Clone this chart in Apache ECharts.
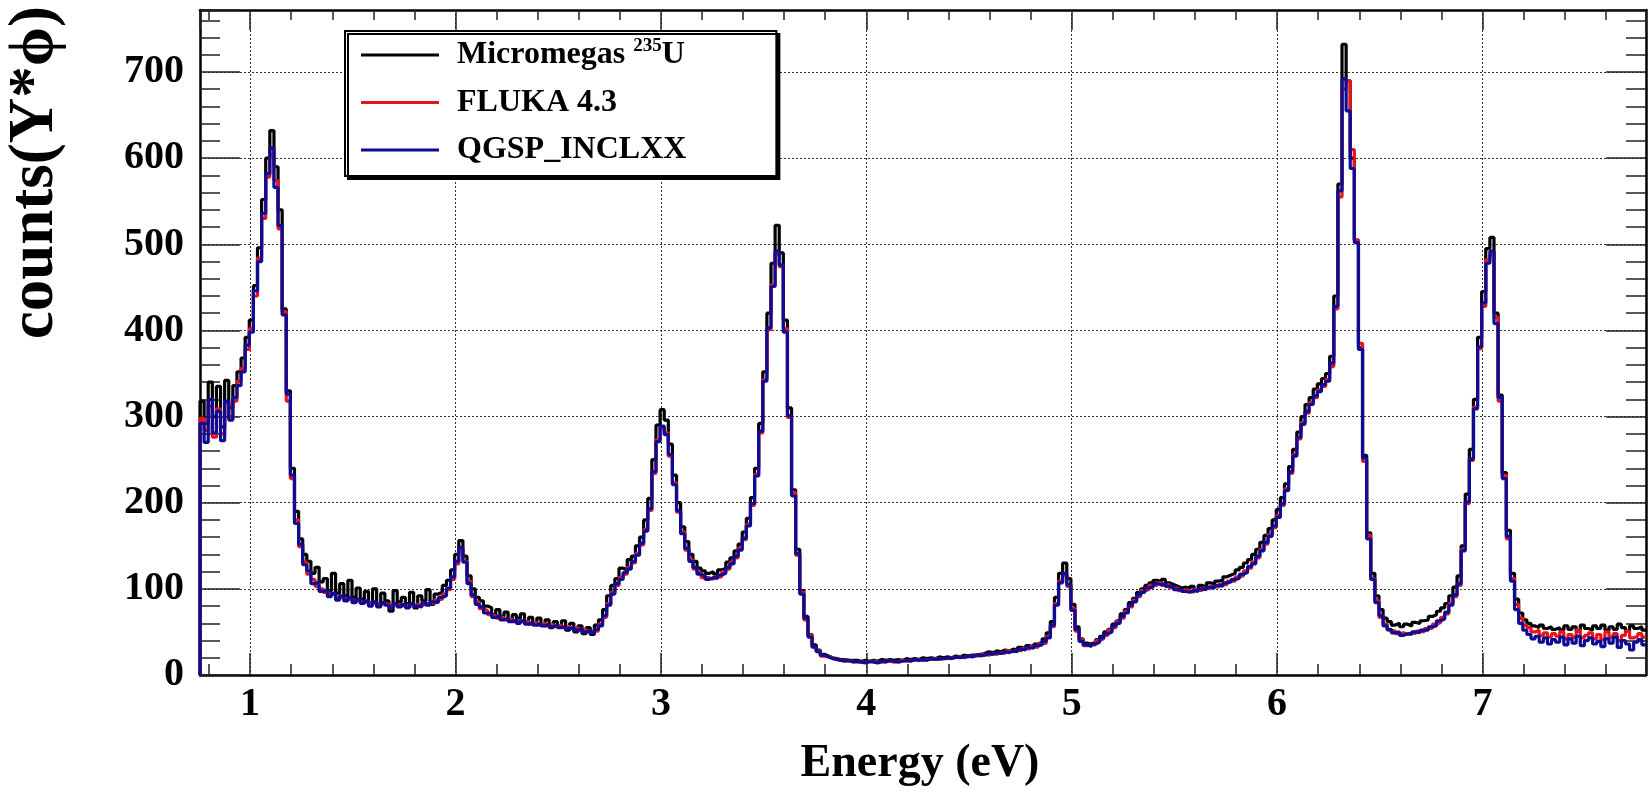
<!DOCTYPE html>
<html><head><meta charset="utf-8">
<script src="https://cdn.jsdelivr.net/npm/echarts@6/dist/echarts.min.js"></script>
<style>html,body{margin:0;padding:0;background:#fff}#c{width:1649px;height:801px}</style>
</head><body><div id="c"></div>
<script>
// Histogram binning (lower edge of first bin and bin width, eV)
const binStart = 0.756;
const binWidth = 0.02;
const xMin = 0.756, xMax = 7.796;
const yMin = 0, yMax = 772;

// Micromegas 235U (data)
const micromegas = [
318,292,340,300,335,288,342,310,336,352,
368,392,412,452,496,552,600,632,590,540,
425,330,240,190,158,140,132,118,125,108,
112,98,118,95,106,92,110,90,101,88,
97,84,100,80,95,86,74,98,85,90,
83,96,78,92,86,99,82,94,96,104,
110,122,140,156,138,115,100,90,86,80,
78,70,76,68,73,64,70,66,71,62,
67,60,66,58,64,55,62,57,63,52,
60,50,57,48,55,47,58,64,76,92,
104,112,124,122,134,138,150,160,180,205,
250,290,308,296,268,232,200,172,155,140,
132,124,121,118,120,117,122,124,131,136,
144,152,166,182,206,240,292,352,420,478,
522,490,412,310,215,146,98,68,47,35,
29,24,22,20,19,18,18,17,17,17,
16,17,16,17,16,18,17,18,17,18,
17,19,18,19,18,20,19,20,19,21,
20,21,20,22,21,23,22,23,23,24,
25,27,26,28,27,29,28,30,29,32,
31,34,33,36,38,42,49,62,90,118,
130,112,82,56,42,37,36,38,41,45,
50,53,59,63,71,76,84,89,96,100,
104,107,110,108,111,107,105,103,101,102,
100,103,99,104,102,107,105,109,110,114,
116,118,122,125,130,134,140,146,154,162,
170,180,192,206,222,242,262,282,300,314,
322,332,338,344,350,370,440,570,732,690,
600,505,380,255,165,118,92,76,66,62,
58,60,56,59,57,61,60,63,64,68,
70,74,78,83,92,102,115,150,210,262,
320,392,445,495,508,420,325,235,168,118,
88,72,64,60,57,55,58,54,56,53,
55,52,57,53,56,51,58,54,52,57,
54,58,52,56,53,59,55,51,57,54,
56,52
];

// FLUKA 4.3
const fluka = [
298,284,312,276,309,280,316,300,318,341,
356,378,402,440,484,530,578,604,574,518,
422,318,228,180,149,131,117,111,103,100,
96,94,93,90,91,88,88,86,87,84,
85,83,84,82,83,82,81,82,80,81,
81,80,82,81,82,84,83,87,88,94,
99,111,129,146,132,109,91,85,77,75,
70,69,66,67,64,65,62,63,61,62,
59,61,58,60,57,59,56,58,55,57,
54,55,52,53,50,51,51,59,67,83,
96,104,113,117,125,130,141,151,169,191,
234,273,287,281,254,223,189,166,145,134,
123,119,113,113,111,114,114,120,123,131,
136,147,157,175,197,233,281,343,401,453,
488,474,402,299,212,139,96,64,46,32,
28,22,21,20,18,17,17,16,16,15,
15,15,15,16,15,15,16,16,15,16,
17,16,17,17,18,17,18,18,19,18,
19,19,20,20,21,20,21,22,22,23,
24,23,25,24,26,25,28,27,29,28,
31,30,33,32,36,37,45,56,83,109,
116,103,77,51,41,34,35,35,40,42,
46,52,55,62,66,74,79,87,91,98,
99,104,104,107,104,105,101,101,98,99,
98,96,99,98,101,100,103,102,105,105,
109,109,114,115,121,124,131,136,146,152,
163,171,185,197,216,234,256,274,293,304,
316,322,331,335,343,358,425,555,680,690,
610,505,385,248,162,112,86,67,59,52,
51,48,49,47,49,48,51,50,54,54,
59,61,67,71,83,91,104,146,199,249,
311,379,428,482,488,415,318,232,158,112,
82,66,58,55,50,52,46,49,44,48,
45,50,42,47,44,52,43,46,49,42,
47,41,50,44,48,40,46,51,43,45,
48,44
];

// QGSP_INCLXX
const qgsp = [
292,270,320,281,306,272,318,296,322,336,
352,383,398,446,480,536,582,612,566,522,
418,326,232,176,152,128,121,106,108,97,
99,91,95,87,92,86,90,84,88,83,
86,80,85,79,84,81,78,83,79,82,
78,83,80,79,84,81,85,84,90,92,
101,114,132,148,131,106,93,82,79,72,
72,67,69,64,66,62,64,60,63,59,
61,58,60,57,59,56,58,55,57,54,
55,52,54,50,52,49,53,57,69,81,
94,106,111,119,123,132,139,153,167,193,
236,271,289,279,256,221,191,164,147,132,
125,117,115,111,113,112,116,118,125,129,
138,145,159,173,199,231,283,341,403,451,
492,476,398,301,208,141,94,66,44,33,
27,23,21,19,18,17,16,17,15,16,
15,14,16,15,14,16,15,17,16,15,
16,17,16,18,17,18,17,19,18,19,
19,20,19,21,20,21,22,21,23,22,
23,25,24,26,25,27,26,28,27,30,
29,32,31,34,35,39,43,58,81,107,
118,105,75,53,39,35,33,36,38,43,
48,50,57,60,68,72,81,85,93,96,
101,102,106,105,106,103,103,99,100,97,
96,98,97,100,99,102,101,104,103,107,
108,111,112,117,119,126,129,138,144,154,
161,173,183,199,214,236,254,276,291,306,
314,324,329,337,341,362,428,562,692,655,
588,502,378,252,158,111,84,69,57,53,
49,50,46,48,47,50,49,52,52,56,
57,63,65,73,81,93,106,144,201,251,
309,381,432,478,492,408,322,228,161,109,
76,60,52,47,42,45,38,43,36,41,
38,44,35,42,37,45,34,40,43,36,
39,33,42,37,44,32,40,36,29,38,
41,35
];

const seriesNames = ['Micromegas 235U', 'FLUKA 4.3', 'QGSP_INCLXX'];
const seriesColors = ['#000000', '#e8141c', '#0c0c96'];

function toHist(vals) {
  const d = [[binStart, 0]];
  vals.forEach((v, i) => d.push([+(binStart + (i + 1) * binWidth).toFixed(4), v]));
  return d;
}

const FONT = "'Liberation Serif','Times New Roman',serif";
const tickStyle = {color: '#222', width: 1.5};

const chart = echarts.init(document.getElementById('c'), null, {renderer: 'canvas'});
chart.setOption({
  animation: false,
  backgroundColor: '#fff',
  grid: {left: 200, right: -6, top: 10, bottom: 126, containLabel: false},
  xAxis: [{
    type: 'value', min: xMin, max: xMax, minInterval: 1, maxInterval: 1, splitNumber: 7,
    axisLine: {show: true, onZero: false, lineStyle: {color: '#000', width: 2.5}},
    axisTick: {show: true, inside: true, length: 22, lineStyle: tickStyle},
    minorTick: {show: true, splitNumber: 5, length: 11, lineStyle: tickStyle},
    splitLine: {show: true, lineStyle: {type: [2, 2], color: '#333', width: 1}},
    axisLabel: {
      margin: 10, color: '#000', fontFamily: FONT, fontWeight: 'bold', fontSize: 40,
      formatter: v => Math.abs(v - Math.round(v)) < 1e-6 ? String(Math.round(v)) : ''
    }
  }, {
    type: 'value', position: 'top', min: xMin, max: xMax, minInterval: 1, maxInterval: 1, splitNumber: 7,
    axisLine: {show: true, onZero: false, lineStyle: {color: '#000', width: 2.5}},
    axisTick: {show: true, inside: true, length: 20, lineStyle: tickStyle},
    minorTick: {show: true, splitNumber: 5, length: 10, lineStyle: tickStyle},
    splitLine: {show: false}, axisLabel: {show: false}
  }],
  yAxis: [{
    type: 'value', min: yMin, max: yMax, interval: 100,
    axisLine: {show: true, onZero: false, lineStyle: {color: '#000', width: 2.5}},
    axisTick: {show: true, inside: true, length: 40, lineStyle: tickStyle},
    minorTick: {show: true, splitNumber: 5, length: 20, lineStyle: tickStyle},
    splitLine: {show: true, lineStyle: {type: [2, 2], color: '#333', width: 1}},
    axisLabel: {
      margin: 16, color: '#000', fontFamily: FONT, fontWeight: 'bold', fontSize: 40,
      formatter: v => (v % 100 === 0) ? String(v) : ''
    }
  }, {
    type: 'value', position: 'right', min: yMin, max: yMax, interval: 100,
    axisLine: {show: true, onZero: false, lineStyle: {color: '#000', width: 2.5}},
    axisTick: {show: true, inside: true, length: 40, lineStyle: tickStyle},
    minorTick: {show: true, splitNumber: 5, length: 20, lineStyle: tickStyle},
    splitLine: {show: false}, axisLabel: {show: false}
  }],
  legend: {
    orient: 'vertical', left: 345, top: 31,
    data: seriesNames,
    icon: 'rect', itemWidth: 78, itemHeight: 3, itemGap: 15.5,
    padding: [6, 90, 10, 16],
    backgroundColor: '#fff', borderColor: '#000', borderWidth: 2, borderRadius: 0,
    shadowColor: '#000', shadowBlur: 0, shadowOffsetX: 3, shadowOffsetY: 3,
    formatter: name => name === 'Micromegas 235U'
      ? '{t|Micromegas }{s|235}{t|U}'
      : '{t|' + name + '}',
    textStyle: {
      padding: [0, 0, 0, 13],
      rich: {
        t: {fontFamily: FONT, fontWeight: 'bold', fontSize: 32, color: '#000', lineHeight: 36},
        s: {fontFamily: FONT, fontWeight: 'bold', fontSize: 19, color: '#000', lineHeight: 18, verticalAlign: 'top'}
      }
    }
  },
  graphic: [
    {type: 'text', x: 36, y: 6, rotation: Math.PI / 2, z: 10,
     style: {text: 'counts(Y*ϕ)', font: "bold 63px 'Liberation Serif','Times New Roman',serif", fill: '#000', align: 'right', verticalAlign: 'middle'}},
    {type: 'text', x: 920, y: 764, z: 10,
     style: {text: 'Energy (eV)', font: "bold 46px 'Liberation Serif','Times New Roman',serif", fill: '#000', align: 'center', verticalAlign: 'middle'}}
  ],
  series: [micromegas, fluka, qgsp].map((vals, k) => ({
    name: seriesNames[k], type: 'line', step: 'start', showSymbol: false, symbol: 'none',
    data: toHist(vals), xAxisIndex: 0, yAxisIndex: 0,
    lineStyle: {color: seriesColors[k], width: 3.2},
    itemStyle: {color: seriesColors[k]},
    z: 2 + k, silent: true
  }))
});
</script></body></html>
